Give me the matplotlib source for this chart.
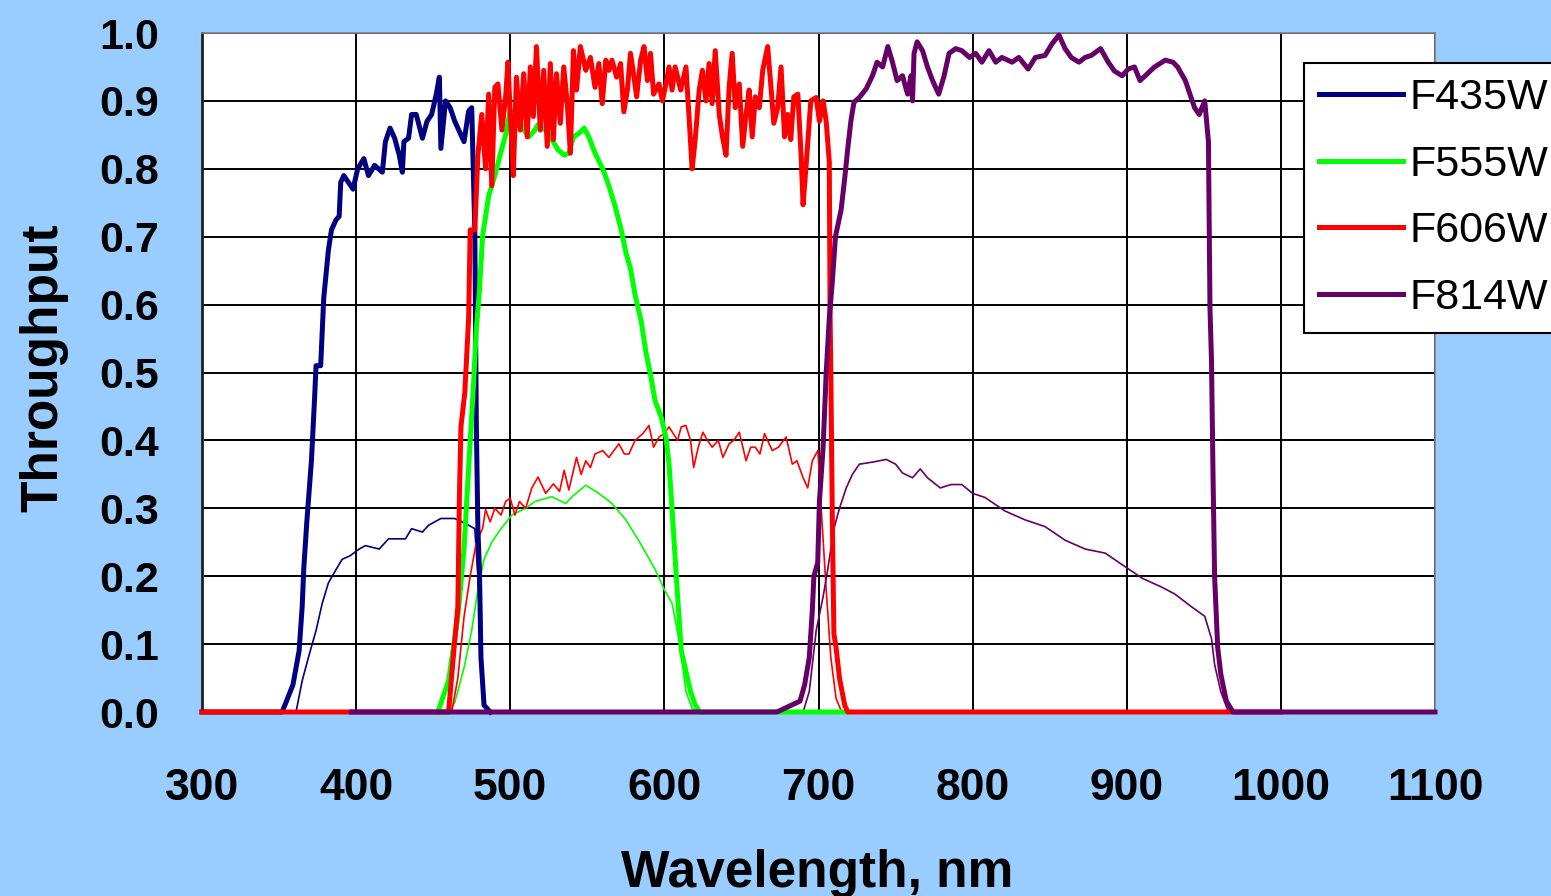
import matplotlib
matplotlib.use("Agg")
import matplotlib.pyplot as plt

plt.rcParams["font.family"] = ["Liberation Sans", "DejaVu Sans"]

# (wavelength nm, throughput)
f435w_filter = [(300, 0), (352, 0), (359, 0.04), (363, 0.09), (365, 0.155), (366, 0.21), (368, 0.28),
                (371, 0.37), (373, 0.46), (374, 0.51), (377, 0.51), (378, 0.56), (379, 0.61), (382, 0.68),
                (384, 0.71), (387, 0.725), (389, 0.73), (390, 0.78), (392, 0.79), (395, 0.78), (398, 0.77),
                (401, 0.80), (405, 0.815), (408, 0.79), (412, 0.805), (417, 0.795), (419, 0.84), (422, 0.86),
                (425, 0.845), (428, 0.82), (430, 0.795), (431, 0.84), (434, 0.845), (436, 0.88), (439, 0.88),
                (443, 0.845), (446, 0.87), (449, 0.88), (452, 0.91), (454, 0.935), (455, 0.83), (458, 0.90),
                (461, 0.89), (464, 0.87), (467, 0.855), (470, 0.84), (473, 0.885), (475, 0.89), (476, 0.80),
                (477, 0.71), (478, 0.42), (479, 0.27), (480, 0.21), (481, 0.08), (483, 0.01), (487, 0)]
f435w_system = [(300, 0), (361, 0), (365, 0.046), (369, 0.08), (374, 0.12), (378, 0.16), (382, 0.19),
                (387, 0.21), (391, 0.225), (396, 0.23), (402, 0.24), (406, 0.245), (415, 0.24), (421, 0.255),
                (432, 0.255), (436, 0.27), (443, 0.265), (447, 0.275), (455, 0.285), (464, 0.285),
                (473, 0.275), (477, 0.27), (479, 0.2), (481, 0.08), (483, 0.01), (487, 0)]

f555w_filter = [(453, 0), (460, 0.046), (466, 0.14), (470, 0.24), (473, 0.36), (476, 0.475), (478, 0.565),
                (480, 0.62), (482, 0.70), (486, 0.76), (490, 0.79), (494, 0.825), (497, 0.85), (500, 0.886),
                (503, 0.88), (509, 0.857), (512, 0.847), (516, 0.857), (518, 0.865), (523, 0.857),
                (527, 0.843), (531, 0.828), (535, 0.82), (538, 0.823), (541, 0.847), (544.5, 0.852),
                (548, 0.86), (551, 0.847), (555, 0.823), (560, 0.80), (564, 0.775), (568, 0.745), (572, 0.71),
                (575, 0.677), (578, 0.653), (581, 0.614), (585, 0.575), (588, 0.53), (591, 0.497),
                (594, 0.458), (598, 0.434), (601, 0.405), (603, 0.366), (605, 0.298), (608, 0.19),
                (611, 0.09), (617, 0.03), (620, 0.01), (623, 0), (718, 0)]
f555w_system = [(460, 0), (464, 0.014), (470, 0.065), (475, 0.12), (479, 0.18), (483, 0.225), (488, 0.25),
                (494, 0.27), (501, 0.29), (510, 0.30), (516, 0.31), (527, 0.317), (536, 0.307), (540, 0.317),
                (549, 0.334), (557.5, 0.322), (566, 0.307), (575, 0.283), (584, 0.25), (594, 0.21),
                (600, 0.18), (605, 0.16), (610, 0.1), (614, 0.03), (618, 0.005), (623, 0)]

f606w_filter = [(300, 0), (460, 0), (463, 0.08), (466, 0.155), (467, 0.315), (468, 0.42), (470.5, 0.47),
                (473, 0.58), (474, 0.71), (477, 0.71), (479, 0.82), (481.5, 0.88), (484, 0.80), (486, 0.91),
                (488, 0.775), (490, 0.92), (492, 0.925), (494.6, 0.857), (497, 0.906), (498.5, 0.957),
                (500, 0.88), (502, 0.79), (504, 0.935), (506.5, 0.857), (508.7, 0.94), (511, 0.847),
                (513, 0.95), (515, 0.877), (517, 0.98), (519.5, 0.857), (521.7, 0.945), (524, 0.833),
                (526, 0.955), (528, 0.843), (530, 0.94), (532.5, 0.867), (534.7, 0.95), (537, 0.896),
                (539, 0.823), (541, 0.974), (543, 0.916), (545.5, 0.98), (549, 0.945), (552, 0.964),
                (555, 0.92), (557.5, 0.955), (559.7, 0.896), (562, 0.96), (564, 0.945), (566, 0.96),
                (569, 0.935), (571.6, 0.955), (573.7, 0.884), (576, 0.916), (578, 0.97), (580, 0.94),
                (582, 0.906), (584.6, 0.96), (586.8, 0.98), (589, 0.93), (591, 0.97), (593, 0.91),
                (596.5, 0.925), (598.7, 0.90), (601, 0.925), (603, 0.95), (605, 0.916), (607, 0.95),
                (610.6, 0.916), (614, 0.95), (616, 0.877), (618, 0.80), (620, 0.843), (622.6, 0.916),
                (624.7, 0.945), (627, 0.90), (629, 0.955), (631, 0.896), (633, 0.974), (635.6, 0.88),
                (637.7, 0.847), (640, 0.82), (642, 0.92), (644, 0.97), (646, 0.89), (648.6, 0.925),
                (650.8, 0.833), (653, 0.88), (655, 0.916), (657, 0.847), (659, 0.906), (661.6, 0.89),
                (663.8, 0.945), (667, 0.98), (669, 0.925), (671, 0.867), (673.5, 0.89), (675.7, 0.95),
                (678, 0.847), (680, 0.88), (682, 0.843), (684, 0.906), (686.6, 0.91), (688.7, 0.82),
                (690, 0.747), (692, 0.806), (695, 0.90), (698.5, 0.905), (700.6, 0.87), (703, 0.90),
                (705, 0.87), (707, 0.81), (707.5, 0.59), (708, 0.50), (709, 0.28), (710, 0.115),
                (711.4, 0.095), (713.6, 0.05), (717, 0.01), (719, 0), (1000, 0)]
f606w_system = [(462, 0), (466, 0.05), (470, 0.14), (474, 0.2), (478, 0.25), (482, 0.27), (484, 0.298),
                (487, 0.28), (490, 0.30), (494, 0.29), (497, 0.31), (500, 0.315), (503, 0.29), (506, 0.31),
                (510, 0.30), (514, 0.33), (518, 0.346), (523, 0.322), (528, 0.336), (532, 0.325),
                (535, 0.356), (538, 0.327), (543, 0.375), (546, 0.35), (549, 0.37), (552, 0.36), (555, 0.38),
                (560, 0.385), (564, 0.375), (570.5, 0.395), (574, 0.38), (577, 0.38), (581, 0.40),
                (586, 0.41), (590, 0.422), (593, 0.39), (596.5, 0.405), (600, 0.41), (603, 0.42),
                (608.5, 0.40), (611, 0.42), (614, 0.422), (617, 0.40), (619, 0.36), (622, 0.39),
                (625, 0.412), (628, 0.40), (631, 0.39), (635, 0.40), (638, 0.375), (642, 0.395), (645, 0.40),
                (648.6, 0.412), (653, 0.37), (656, 0.39), (659, 0.39), (662, 0.38), (665, 0.41),
                (670, 0.385), (674, 0.39), (679, 0.405), (683, 0.365), (686, 0.37), (690, 0.345),
                (693, 0.33), (696, 0.37), (699.6, 0.385), (702, 0.29), (705, 0.18), (708, 0.08),
                (711.4, 0.02), (715, 0)]

f814w_filter = [(397, 0), (673, 0), (688, 0.016), (691, 0.04), (694, 0.08), (696, 0.15), (697, 0.2),
                (699.5, 0.22), (700.6, 0.31), (703, 0.39), (705, 0.5), (707, 0.58), (709, 0.635), (711, 0.70),
                (714.7, 0.74), (717, 0.786), (719, 0.83), (721, 0.87), (723, 0.898), (726.5, 0.905),
                (731, 0.918), (735, 0.937), (738, 0.957), (741.6, 0.95), (745, 0.98), (748, 0.957),
                (751, 0.93), (754.5, 0.937), (757.8, 0.91), (760, 0.937), (761, 0.90), (762, 0.97),
                (764, 0.987), (767.5, 0.974), (770.7, 0.95), (774, 0.93), (778, 0.91), (781.5, 0.937),
                (784.7, 0.97), (789, 0.977), (793, 0.974), (798, 0.964), (802, 0.97), (806, 0.957),
                (810.6, 0.974), (815, 0.957), (819, 0.964), (825.6, 0.957), (830, 0.964), (836, 0.947),
                (840.7, 0.964), (847, 0.967), (851.5, 0.984), (856, 0.997), (860, 0.977), (864, 0.964),
                (869, 0.957), (873, 0.964), (877, 0.967), (883, 0.977), (888, 0.957), (892, 0.944),
                (897, 0.937), (901, 0.947), (905, 0.95), (908.6, 0.93), (912, 0.937), (918, 0.95),
                (925, 0.96), (930, 0.957), (933, 0.95), (938, 0.93), (941, 0.91), (944, 0.89), (947, 0.88),
                (950.6, 0.90), (953, 0.84), (954, 0.595), (955, 0.516), (956, 0.345), (957, 0.20),
                (959, 0.095), (961, 0.056), (964.6, 0.016), (969, 0), (1100, 0)]
f814w_system = [(690, 0), (694, 0.03), (698.5, 0.12), (703, 0.17), (706, 0.21), (710, 0.27), (713.6, 0.30),
                (718, 0.33), (722, 0.35), (726.5, 0.365), (735, 0.368), (744, 0.372), (750, 0.365),
                (754.5, 0.352), (761, 0.345), (766, 0.358), (770.7, 0.345), (779, 0.33), (786, 0.335),
                (793, 0.335), (800, 0.322), (808, 0.316), (821, 0.296), (834, 0.283), (847, 0.273),
                (860, 0.253), (873, 0.24), (886, 0.234), (897, 0.217), (910, 0.197), (922.6, 0.184),
                (931, 0.174), (942, 0.155), (950.6, 0.141), (955, 0.108), (957, 0.07), (961, 0.03), (966, 0)]

names = ["F435W", "F555W", "F606W", "F814W"]
colors = ["#000080", "#00FF00", "#FF0000", "#660066"]
filters = [f435w_filter, f555w_filter, f606w_filter, f814w_filter]
systems = [f435w_system, f555w_system, f606w_system, f814w_system]

x_ticks = [300, 400, 500, 600, 700, 800, 900, 1000, 1100]
y_ticks = [0.0, 0.1, 0.2, 0.3, 0.4, 0.5, 0.6, 0.7, 0.8, 0.9, 1.0]

fig = plt.figure(figsize=(15.51, 8.96), dpi=100)
fig.patch.set_facecolor("#99CCFF")
ax = fig.add_axes([202 / 1551, 184 / 896, 1233 / 1551, 679 / 896])
ax.set_facecolor("white")

# thin system curves underneath, thick filter curves on top
for data, c in zip(systems, colors):
    ax.plot([p[0] for p in data], [p[1] for p in data], color=c, lw=1.2, clip_on=False, zorder=3)

handles = []
for data, c, name in zip(filters, colors, names):
    (ln,) = ax.plot([p[0] for p in data], [p[1] for p in data], color=c, lw=3.6,
                    clip_on=False, zorder=4, label=name)
    handles.append(ln)

ax.set_xlim(300, 1100)
ax.set_ylim(0, 1.0)
ax.set_xticks(x_ticks)
ax.set_yticks(y_ticks)
ax.set_yticklabels([f"{v:.1f}" for v in y_ticks])
ax.grid(True, color="black", lw=1.4, zorder=1)
ax.set_axisbelow(True)
ax.tick_params(axis="y", length=0, pad=31, labelsize=31)
ax.tick_params(axis="x", length=0, pad=40, labelsize=32)
for lab in ax.get_xticklabels() + ax.get_yticklabels():
    lab.set_fontweight("bold")

for side in ["top", "right", "bottom"]:
    ax.spines[side].set_color("#808080")
    ax.spines[side].set_linewidth(1.2)
ax.spines["left"].set_color("#202020")
ax.spines["left"].set_linewidth(2.0)

fig.text(44 / 1551, 1 - 368 / 896, "Throughput", rotation=90, ha="center", va="center",
         fontsize=37, fontweight="bold")
fig.text(817 / 1551, 9 / 896, "Wavelength, nm", ha="center", va="baseline",
         fontsize=37, fontweight="bold")

leg = ax.legend(handles=handles, loc="upper left", bbox_to_anchor=(0.894, 0.956),
                borderaxespad=0, fontsize=31, frameon=True, fancybox=False,
                edgecolor="black", framealpha=1, borderpad=0.35, handlelength=1.95,
                handletextpad=0.15, labelspacing=0.62)
leg.get_frame().set_linewidth(1.5)
leg.set_zorder(10)

fig.savefig("out.png", dpi=100, facecolor=fig.get_facecolor())
